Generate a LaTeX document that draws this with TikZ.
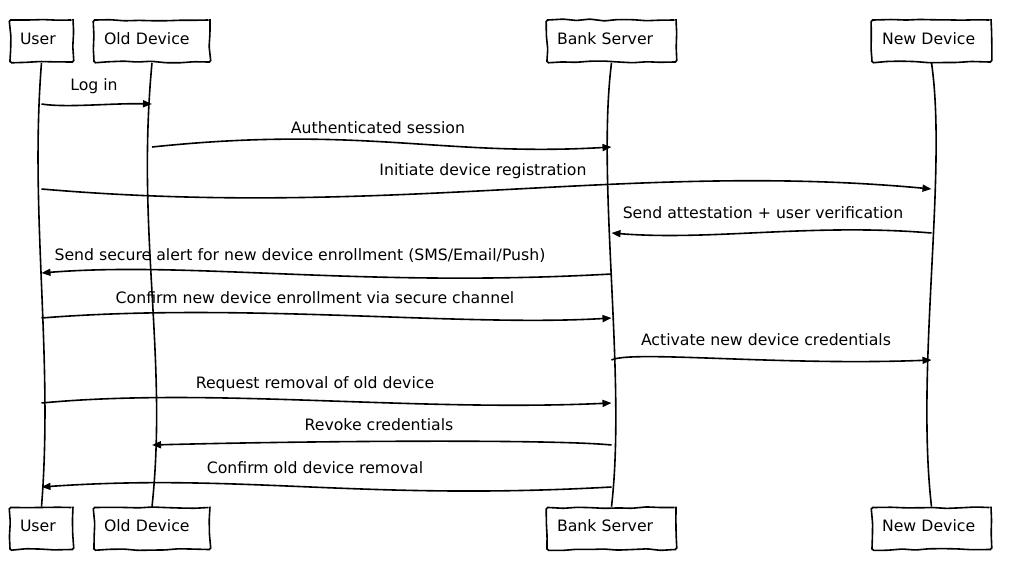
\documentclass[tikz,border=0pt]{standalone}
\usepackage{fontspec}
\setmainfont{DejaVu Sans}
\usetikzlibrary{arrows.meta,decorations.pathmorphing}

\tikzset{
  actor/.style={draw, line width=1.6pt, minimum height=42pt, inner xsep=10pt,
    text height=11pt, text depth=5pt,
    align=left, font=\fontsize{15.7}{18}\selectfont,
    decorate, decoration={random steps, segment length=14pt, amplitude=0.9pt},
    rounded corners=1.5pt},
  life/.style={line width=1.6pt},
  msg/.style={line width=1.6pt, -{Triangle[length=9pt,width=7pt]}},
  lbl/.style={font=\fontsize{15.7}{18}\selectfont, anchor=base, inner sep=0pt},
}

\begin{document}
\begin{tikzpicture}[x=1pt, y=-1pt]
  \pgfmathsetseed{7}
  \useasboundingbox (0,0) rectangle (1021,570);

  % participants, top and bottom
  \node[actor, text width=43pt] (user) at (41.5,41) {User};
  \node[actor, text width=96pt] (old) at (152,41) {Old Device};
  \node[actor, text width=109pt] (bank) at (611.5,41) {Bank Server};
  \node[actor, text width=99pt] (new) at (931.5,41) {New Device};

  \node[actor, text width=43pt] (userB) at (41.5,528.5) {User};
  \node[actor, text width=96pt] (oldB) at (152,528.5) {Old Device};
  \node[actor, text width=109pt] (bankB) at (611.5,528.5) {Bank Server};
  \node[actor, text width=99pt] (newB) at (931.5,528.5) {New Device};

  % lifelines
  \draw[life] (user.south) .. controls +(-12,150) and +(12,-150) .. (userB.north);
  \draw[life] (old.south) .. controls +(-16,170) and +(16,-150) .. (oldB.north);
  \draw[life] (bank.south) .. controls +(-15,120) and +(15,-130) .. (bankB.north);
  \draw[life] (new.south) .. controls +(16,110) and +(-16,-140) .. (newB.north);

  % message ends on the lifelines
  \coordinate (u1) at (user.south |- 0,104);
  \coordinate (o1) at (old.south |- 0,104);
  \coordinate (o2) at (old.south |- 0,147);
  \coordinate (b2) at (bank.south |- 0,147);
  \coordinate (u3) at (user.south |- 0,189);
  \coordinate (n3) at (new.south |- 0,189);
  \coordinate (n4) at (new.south |- 0,233);
  \coordinate (b4) at (bank.south |- 0,233);
  \coordinate (b5) at (bank.south |- 0,274);
  \coordinate (u5) at (user.south |- 0,273);
  \coordinate (u6) at (user.south |- 0,318);
  \coordinate (b6) at (bank.south |- 0,318);
  \coordinate (b7) at (bank.south |- 0,360);
  \coordinate (n7) at (new.south |- 0,360);
  \coordinate (u8) at (user.south |- 0,403);
  \coordinate (b8) at (bank.south |- 0,403);
  \coordinate (b9) at (bank.south |- 0,445);
  \coordinate (o9) at (old.south |- 0,445);
  \coordinate (b10) at (bank.south |- 0,487);
  \coordinate (u10) at (user.south |- 0,487);

  % messages
  \draw[msg] (u1) .. controls +(25,4) and +(-40,-1) .. (o1);
  \draw[msg] (o2) .. controls +(210,-22) and +(-170,10) .. (b2);
  \draw[msg] (u3) .. controls +(350,30) and +(-300,-28) .. (n3);
  \draw[msg] (n4) .. controls +(-120,-10) and +(100,8) .. (b4);
  \draw[msg] (b5) .. controls +(-250,14) and +(150,-12) .. (u5);
  \draw[msg] (u6) .. controls +(200,-16) and +(-150,9) .. (b6);
  \draw[msg] (b7) .. controls +(20,-10) and +(-150,6) .. (n7);
  \draw[msg] (u8) .. controls +(170,-16) and +(-200,9) .. (b8);
  \draw[msg] (b9) .. controls +(-60,-6) and +(150,-4) .. (o9);
  \draw[msg] (b10) .. controls +(-250,14) and +(200,-14) .. (u10);

  % labels
  \node[lbl] (l1) at (94,90) {Log in};
  \node[lbl] (l2) at (378,133) {Authenticated session};
  \node[lbl] (l3) at (483,175) {Initiate device registration};
  \node[lbl] (l4) at (763,218) {Send attestation + user verification};
  \node[lbl] (l5) at (300,260) {Send secure alert for new device enrollment (SMS/Email/Push)};
  \node[lbl] (l6) at (315,303) {Confirm new device enrollment via secure channel};
  \node[lbl] (l7) at (766,345) {Activate new device credentials};
  \node[lbl] (l8) at (315,388) {Request removal of old device};
  \node[lbl] (l9) at (379,430) {Revoke credentials};
  \node[lbl] (l10) at (315,473) {Confirm old device removal};
\end{tikzpicture}
\end{document}
